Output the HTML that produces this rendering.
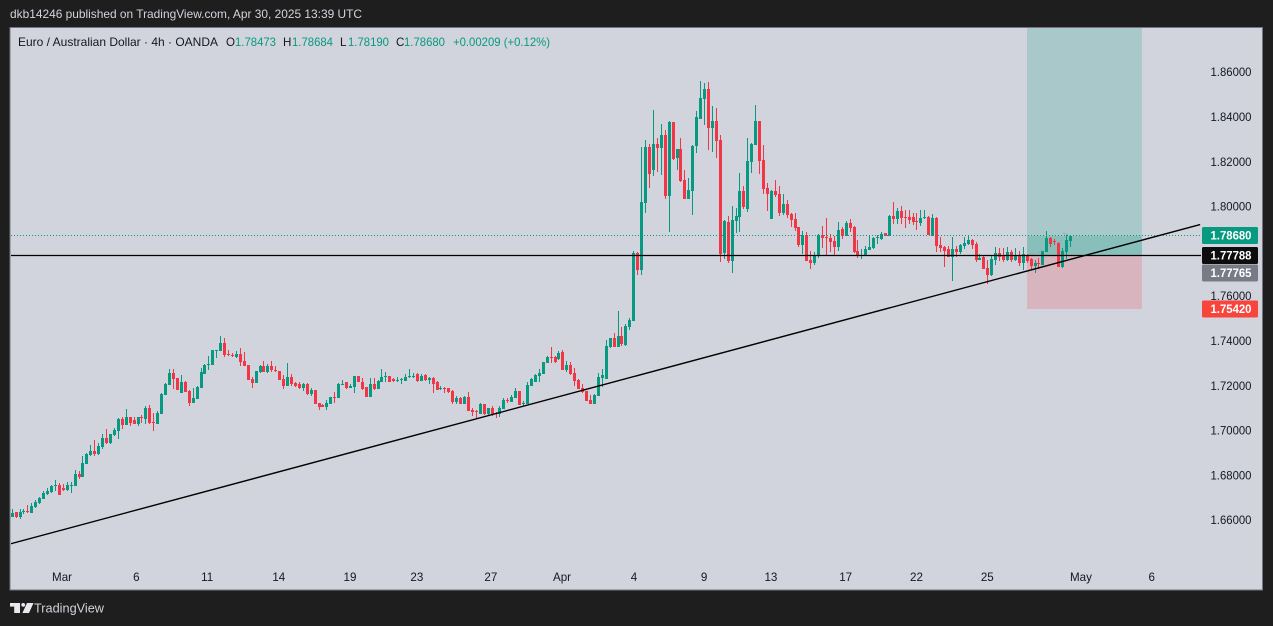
<!DOCTYPE html>
<html lang="en">
<head>
<meta charset="utf-8">
<title>EUR/AUD 4h chart</title>
<style>
html,body{margin:0;padding:0;background:#1e1e1e;width:1273px;height:626px;overflow:hidden}
svg{display:block;font-family:"Liberation Sans",Arial,sans-serif}
</style>
</head>
<body>
<svg id="chart" xmlns="http://www.w3.org/2000/svg" width="1273" height="626" viewBox="0 0 1273 626">
  <rect x="0" y="0" width="1273" height="626" fill="#1e1e1e"/>
  <text x="10" y="18" font-size="12" fill="#d1d4dc" textLength="352" lengthAdjust="spacingAndGlyphs">dkb14246 published on TradingView.com, Apr 30, 2025 13:39 UTC</text>
  <rect x="10" y="27.5" width="1252.5" height="562.5" fill="#d1d4dc" stroke="#73767f" stroke-width="1"/>
  <defs>
    <clipPath id="plot-clip"><rect x="11" y="28" width="1190" height="561"/></clipPath>
  </defs>
  <g id="position-layer" clip-path="url(#plot-clip)"></g>
  <g id="candle-layer" clip-path="url(#plot-clip)"></g>
  <g id="line-layer" clip-path="url(#plot-clip)"></g>
  <g id="y-axis"></g>
  <g id="x-axis"></g>
  <g id="badge-layer"></g>
  <g font-size="11.6">
    <text x="18" y="46" fill="#131722" textLength="200" lengthAdjust="spacingAndGlyphs">Euro / Australian Dollar · 4h · OANDA</text>
    <text x="226" y="46" fill="#131722">O</text>
    <text x="235" y="46" fill="#089981" textLength="41" lengthAdjust="spacingAndGlyphs">1.78473</text>
    <text x="283" y="46" fill="#131722">H</text>
    <text x="292" y="46" fill="#089981" textLength="41" lengthAdjust="spacingAndGlyphs">1.78684</text>
    <text x="340" y="46" fill="#131722">L</text>
    <text x="348" y="46" fill="#089981" textLength="41" lengthAdjust="spacingAndGlyphs">1.78190</text>
    <text x="396" y="46" fill="#131722">C</text>
    <text x="404" y="46" fill="#089981" textLength="41" lengthAdjust="spacingAndGlyphs">1.78680</text>
    <text x="453" y="46" fill="#089981" textLength="97" lengthAdjust="spacingAndGlyphs">+0.00209 (+0.12%)</text>
  </g>
  <g>
    <rect x="10" y="603" width="10" height="3.6" fill="#e8e9ec"/>
    <rect x="14.2" y="603" width="5.8" height="10" fill="#e8e9ec"/>
    <circle cx="23.2" cy="604.9" r="1.9" fill="#e8e9ec"/>
    <polygon points="27,603 33.5,603 29,613 22.4,613" fill="#e8e9ec"/>
    <text x="34" y="612.5" font-size="13" fill="#d1d4dc" textLength="70" lengthAdjust="spacingAndGlyphs">TradingView</text>
  </g>
</svg>
<script>
const opens = [
1.6613,1.6636,1.6613,1.6636,1.6639,1.6633,1.6658,1.6674,1.6695,1.6716,
1.6725,1.6752,1.6756,1.6741,1.6734,1.6753,1.6752,1.6805,1.6792,1.6850,
1.6890,1.6908,1.6894,1.6926,1.6966,1.6942,1.6978,1.6997,1.7051,1.7024,
1.7058,1.7046,1.7028,1.7058,1.7051,1.7100,1.7037,1.7028,1.7073,1.7158,
1.7202,1.7256,1.7234,1.7167,1.7216,1.7176,1.7122,1.7140,1.7189,1.7252,
1.7292,1.7292,1.7356,1.7354,1.7390,1.7341,1.7336,1.7327,1.7341,1.7310,
1.7292,1.7229,1.7211,1.7260,1.7287,1.7260,1.7287,1.7269,1.7265,1.7229,
1.7198,1.7238,1.7211,1.7207,1.7189,1.7207,1.7162,1.7180,1.7122,1.7113,
1.7104,1.7118,1.7151,1.7145,1.7203,1.7214,1.7190,1.7194,1.7243,1.7217,
1.7194,1.7150,1.7208,1.7185,1.7217,1.7239,1.7243,1.7230,1.7222,1.7225,
1.7222,1.7237,1.7239,1.7252,1.7221,1.7248,1.7225,1.7234,1.7217,1.7185,
1.7190,1.7190,1.7176,1.7127,1.7145,1.7118,1.7150,1.7091,1.7088,1.7074,
1.7118,1.7074,1.7100,1.7078,1.7074,1.7096,1.7136,1.7127,1.7145,1.7176,
1.7121,1.7118,1.7199,1.7217,1.7243,1.7252,1.7301,1.7328,1.7328,1.7319,
1.7350,1.7270,1.7292,1.7257,1.7225,1.7190,1.7176,1.7136,1.7118,1.7154,
1.7234,1.7230,1.7372,1.7413,1.7372,1.7421,1.7381,1.7462,1.7488,1.7792,
1.7716,1.8015,1.8265,1.8163,1.8279,1.8261,1.8319,1.8047,1.8377,1.8216,
1.8256,1.8118,1.8033,1.8069,1.8270,1.8390,1.8480,1.8524,1.8350,1.8381,
1.8297,1.7792,1.7930,1.7756,1.7935,1.7953,1.8069,1.7988,1.8198,1.8274,
1.8381,1.8207,1.8082,1.7944,1.8069,1.8055,1.7971,1.8011,1.7966,1.7944,
1.7908,1.7828,1.7872,1.7761,1.7747,1.7778,1.7872,1.7863,1.7859,1.7845,
1.7819,1.7899,1.7868,1.7926,1.7908,1.7801,1.7778,1.7778,1.7805,1.7814,
1.7859,1.7854,1.7881,1.7868,1.7957,1.7944,1.7979,1.7952,1.7952,1.7952,
1.7935,1.7926,1.7948,1.7952,1.7868,1.7948,1.7827,1.7819,1.7810,1.7774,
1.7810,1.7796,1.7823,1.7832,1.7850,1.7832,1.7761,1.7774,1.7725,1.7694,
1.7761,1.7792,1.7783,1.7761,1.7796,1.7761,1.7783,1.7747,1.7783,1.7765,
1.7734,1.7747,1.7738,1.7796,1.7859,1.7845,1.7836,1.7729,1.7796,1.78473];
const highs = [
1.6649,1.6636,1.6649,1.6649,1.6665,1.6676,1.6689,1.6703,1.6728,1.6743,
1.6758,1.6778,1.6763,1.6761,1.6768,1.6771,1.6823,1.6819,1.6886,1.6899,
1.6933,1.6957,1.6944,1.6984,1.7006,1.6984,1.7009,1.7055,1.7058,1.7095,
1.7058,1.7058,1.7058,1.7069,1.7109,1.7112,1.7076,1.7086,1.7167,1.7211,
1.7274,1.7274,1.7234,1.7247,1.7220,1.7180,1.7189,1.7198,1.7278,1.7296,
1.7332,1.7359,1.7359,1.7421,1.7412,1.7359,1.7345,1.7354,1.7368,1.7350,
1.7292,1.7238,1.7265,1.7292,1.7310,1.7296,1.7310,1.7287,1.7265,1.7247,
1.7301,1.7252,1.7216,1.7216,1.7211,1.7211,1.7189,1.7180,1.7122,1.7118,
1.7135,1.7149,1.7172,1.7211,1.7225,1.7217,1.7208,1.7243,1.7243,1.7234,
1.7194,1.7234,1.7234,1.7225,1.7275,1.7261,1.7243,1.7234,1.7240,1.7234,
1.7252,1.7275,1.7257,1.7257,1.7252,1.7252,1.7239,1.7239,1.7221,1.7199,
1.7194,1.7190,1.7181,1.7154,1.7150,1.7154,1.7172,1.7100,1.7091,1.7123,
1.7118,1.7100,1.7109,1.7083,1.7109,1.7145,1.7145,1.7158,1.7190,1.7176,
1.7132,1.7217,1.7234,1.7252,1.7275,1.7306,1.7333,1.7373,1.7333,1.7355,
1.7359,1.7310,1.7306,1.7279,1.7230,1.7208,1.7176,1.7158,1.7163,1.7257,
1.7275,1.7404,1.7413,1.7435,1.7533,1.7462,1.7475,1.7502,1.7801,1.7797,
1.8265,1.8297,1.8279,1.8430,1.8305,1.8368,1.8341,1.8381,1.8377,1.8256,
1.8305,1.8163,1.8127,1.8274,1.8426,1.8560,1.8551,1.8555,1.8448,1.8439,
1.8319,1.7939,1.7957,1.8002,1.7993,1.8149,1.8091,1.8305,1.8283,1.8453,
1.8381,1.8274,1.8105,1.8073,1.8118,1.8091,1.8055,1.8029,1.7971,1.7971,
1.7908,1.7890,1.7886,1.7801,1.7796,1.7877,1.7912,1.7948,1.7877,1.7868,
1.7930,1.7908,1.7935,1.7944,1.7912,1.7850,1.7810,1.7823,1.7868,1.7863,
1.7872,1.7885,1.7881,1.7961,1.8019,1.7993,1.8002,1.7984,1.7984,1.7970,
1.7970,1.7984,1.7984,1.7957,1.7966,1.7952,1.7863,1.7823,1.7823,1.7863,
1.7823,1.7832,1.7863,1.7872,1.7854,1.7841,1.7787,1.7778,1.7761,1.7778,
1.7819,1.7814,1.7814,1.7819,1.7805,1.7814,1.7801,1.7819,1.7787,1.7769,
1.7761,1.7769,1.7801,1.7890,1.7863,1.7854,1.7841,1.7814,1.7872,1.78684];
const lows = [
1.6613,1.6609,1.6606,1.6625,1.6630,1.6631,1.6655,1.6671,1.6694,1.6711,
1.6722,1.6728,1.6711,1.6728,1.6729,1.6722,1.6752,1.6783,1.6792,1.6850,
1.6886,1.6886,1.6890,1.6917,1.6938,1.6938,1.6973,1.6961,1.7006,1.7024,
1.7019,1.7028,1.7019,1.7033,1.7028,1.7028,1.6997,1.7028,1.7073,1.7158,
1.7202,1.7185,1.7180,1.7167,1.7171,1.7109,1.7122,1.7140,1.7189,1.7252,
1.7269,1.7292,1.7323,1.7354,1.7327,1.7332,1.7327,1.7323,1.7287,1.7287,
1.7225,1.7189,1.7211,1.7256,1.7260,1.7256,1.7260,1.7260,1.7225,1.7185,
1.7198,1.7198,1.7194,1.7185,1.7176,1.7158,1.7153,1.7118,1.7091,1.7104,
1.7091,1.7118,1.7121,1.7145,1.7202,1.7184,1.7190,1.7169,1.7214,1.7181,
1.7150,1.7150,1.7181,1.7185,1.7217,1.7217,1.7214,1.7217,1.7217,1.7205,
1.7222,1.7234,1.7234,1.7217,1.7221,1.7221,1.7208,1.7167,1.7181,1.7181,
1.7167,1.7167,1.7118,1.7118,1.7118,1.7118,1.7087,1.7065,1.7056,1.7074,
1.7069,1.7065,1.7065,1.7056,1.7060,1.7096,1.7123,1.7127,1.7145,1.7114,
1.7109,1.7118,1.7199,1.7217,1.7217,1.7252,1.7301,1.7301,1.7301,1.7315,
1.7270,1.7261,1.7248,1.7199,1.7185,1.7167,1.7132,1.7118,1.7118,1.7154,
1.7194,1.7230,1.7368,1.7372,1.7372,1.7377,1.7377,1.7448,1.7488,1.7694,
1.7694,1.7971,1.8082,1.8136,1.8154,1.8140,1.8033,1.7886,1.8207,1.8163,
1.8109,1.8033,1.8033,1.7962,1.8238,1.8390,1.8363,1.8252,1.8243,1.8216,
1.7752,1.7765,1.7747,1.7703,1.7881,1.7886,1.7988,1.7975,1.8149,1.8274,
1.8145,1.8055,1.7980,1.7944,1.8042,1.7957,1.7962,1.7948,1.7908,1.7890,
1.7819,1.7788,1.7756,1.7720,1.7738,1.7769,1.7814,1.7778,1.7796,1.7783,
1.7801,1.7854,1.7868,1.7885,1.7792,1.7769,1.7765,1.7778,1.7805,1.7810,
1.7832,1.7850,1.7868,1.7868,1.7921,1.7921,1.7921,1.7903,1.7921,1.7917,
1.7894,1.7912,1.7944,1.7872,1.7868,1.7796,1.7796,1.7729,1.7774,1.7667,
1.7774,1.7787,1.7810,1.7827,1.7810,1.7752,1.7761,1.7720,1.7653,1.7689,
1.7738,1.7756,1.7752,1.7756,1.7752,1.7756,1.7734,1.7716,1.7747,1.7720,
1.7702,1.7720,1.7738,1.7796,1.7819,1.7827,1.7729,1.7725,1.7765,1.78190];
const closes = [
1.6633,1.6613,1.6637,1.6640,1.6636,1.6662,1.6680,1.6698,1.6719,1.6728,
1.6752,1.6756,1.6711,1.6734,1.6756,1.6756,1.6805,1.6790,1.6854,1.6894,
1.6906,1.6894,1.6930,1.6966,1.6942,1.6984,1.7002,1.7051,1.7024,1.7060,
1.7033,1.7028,1.7058,1.7055,1.7100,1.7033,1.7034,1.7077,1.7162,1.7207,
1.7256,1.7229,1.7180,1.7216,1.7171,1.7122,1.7144,1.7194,1.7260,1.7292,
1.7296,1.7359,1.7359,1.7390,1.7336,1.7336,1.7332,1.7341,1.7305,1.7287,
1.7225,1.7211,1.7265,1.7287,1.7260,1.7287,1.7269,1.7266,1.7225,1.7198,
1.7238,1.7207,1.7198,1.7189,1.7207,1.7162,1.7180,1.7118,1.7104,1.7104,
1.7122,1.7149,1.7148,1.7208,1.7208,1.7190,1.7199,1.7243,1.7214,1.7187,
1.7150,1.7208,1.7185,1.7221,1.7239,1.7243,1.7217,1.7222,1.7225,1.7228,
1.7239,1.7243,1.7245,1.7221,1.7243,1.7225,1.7234,1.7208,1.7181,1.7190,
1.7187,1.7172,1.7127,1.7145,1.7118,1.7150,1.7087,1.7083,1.7083,1.7118,
1.7074,1.7100,1.7074,1.7074,1.7100,1.7136,1.7133,1.7150,1.7176,1.7114,
1.7123,1.7203,1.7230,1.7248,1.7257,1.7306,1.7328,1.7325,1.7306,1.7346,
1.7270,1.7292,1.7252,1.7221,1.7185,1.7172,1.7132,1.7118,1.7158,1.7239,
1.7248,1.7377,1.7413,1.7372,1.7421,1.7386,1.7466,1.7493,1.7792,1.7716,
1.8020,1.8265,1.8145,1.8279,1.8261,1.8319,1.8047,1.8377,1.8212,1.8256,
1.8113,1.8033,1.8073,1.8270,1.8399,1.8484,1.8524,1.8350,1.8381,1.8292,
1.7788,1.7935,1.7756,1.7939,1.7957,1.8069,1.7997,1.8203,1.8279,1.8381,
1.8203,1.8078,1.8055,1.8069,1.8051,1.7971,1.8011,1.7962,1.7939,1.7904,
1.7828,1.7872,1.7756,1.7747,1.7783,1.7872,1.7859,1.7859,1.7841,1.7819,
1.7894,1.7868,1.7926,1.7903,1.7796,1.7778,1.7783,1.7810,1.7819,1.7859,
1.7863,1.7877,1.7868,1.7957,1.7944,1.7979,1.7948,1.7948,1.7939,1.7930,
1.7930,1.7948,1.7952,1.7872,1.7948,1.7823,1.7814,1.7801,1.7774,1.7810,
1.7796,1.7827,1.7836,1.7850,1.7827,1.7761,1.7769,1.7720,1.7694,1.7765,
1.7792,1.7774,1.7761,1.7796,1.7761,1.7783,1.7747,1.7787,1.7756,1.7734,
1.7747,1.7743,1.7801,1.7859,1.7832,1.7841,1.7729,1.7801,1.7850,1.78680];

const priceTicks = [1.86,1.84,1.82,1.80,1.78,1.76,1.74,1.72,1.70,1.68,1.66];
const timeTickLabels = ["Mar","6","11","14","19","23","27","Apr","4","9","13","17","22","25","May","6"];
const timeTickBars = [12.8,31.7,49.7,67.9,86,103,121.8,139.9,158.2,176,193,212,230,248,271.8,289.8];

const lastPrice = 1.78680;
const entryPrice = 1.77788;
const stopPrice = 1.75420;
const crossPrice = 1.77765;
const targetPrice = 1.8801;
const positionStartBar = 258.1;
const positionEndBar = 287.3;
const trendBars = [-0.42, 302.1];
const trendPrices = [1.6493, 1.7919];
const markerBars = [[258.5,259.6],[260.8,262],[265.9,267],[267.3,268.6]];
const markerPrices = [[1.7785,1.7790],[1.7794,1.7803],[1.7839,1.7847],[1.7881,1.7873]];

const SVG_NS = "http://www.w3.org/2000/svg";
const GREEN = "#089981";
const RED = "#f23645";

function xOf(bar){ return 11.67 + bar * 3.934; }
function yOf(price){ return 72 + (1.86 - price) * 2240; }
function make(tag, attrs, parent){
  const el = document.createElementNS(SVG_NS, tag);
  Object.keys(attrs).forEach(function(k){ el.setAttribute(k, attrs[k]); });
  parent.appendChild(el);
  return el;
}

/* position box */
const posLayer = document.getElementById("position-layer");
const boxLeft = xOf(positionStartBar);
const boxWidth = xOf(positionEndBar) - boxLeft;
const targetZone = make("rect", {x:boxLeft, y:yOf(targetPrice), width:boxWidth, height:yOf(entryPrice)-yOf(targetPrice), fill:"#089981", "fill-opacity":"0.2"}, posLayer);


const activeZone = make("rect", {x:boxLeft, y:yOf(lastPrice), width:boxWidth, height:yOf(entryPrice)-yOf(lastPrice), fill:"#089981", "fill-opacity":"0.2"}, posLayer);


const stopZone = make("rect", {x:boxLeft, y:yOf(entryPrice), width:boxWidth, height:yOf(stopPrice)-yOf(entryPrice), fill:"#f23645", "fill-opacity":"0.2"}, posLayer);



/* candles */
const candleLayer = document.getElementById("candle-layer");
closes.forEach(function(close, i){
  const open = opens[i];
  const up = close >= open;
  const color = up ? GREEN : RED;
  const cx = Math.round(xOf(i));
  const g = make("g", {fill:color}, candleLayer);
  
  
  const yHigh = Math.round(yOf(highs[i]));
  const yLow = Math.round(yOf(lows[i]));
  const wick = make("rect", {x:cx, y:yHigh, width:1, height:Math.max(1, yLow - yHigh)}, g);
  
  
  const bTop = Math.round(yOf(Math.max(open, close)));
  const bBot = Math.round(yOf(Math.min(open, close)));
  const body = make("rect", {x:cx - 1, y:bTop, width:3, height:Math.max(1, bBot - bTop)}, g);
  
  
});

/* drawings */
const lineLayer = document.getElementById("line-layer");
markerBars.forEach(function(bars, i){
  const m = make("line", {x1:xOf(bars[0]), x2:xOf(bars[1]), y1:yOf(markerPrices[i][0]), y2:yOf(markerPrices[i][1]), stroke:"#9a9ca6", "stroke-width":1, "stroke-dasharray":"2 1"}, lineLayer);
  
  
});
const dotted = make("line", {x1:11, x2:1201, y1:Math.round(yOf(lastPrice)) - 0.5, y2:Math.round(yOf(lastPrice)) - 0.5, stroke:GREEN, "stroke-width":1, "stroke-dasharray":"1 2"}, lineLayer);


const hLine = make("line", {x1:11, x2:1201, y1:Math.round(yOf(entryPrice)) - 0.5, y2:Math.round(yOf(entryPrice)) - 0.5, stroke:"#000000", "stroke-width":1.2}, lineLayer);


const trend = make("line", {x1:xOf(trendBars[0]), x2:xOf(trendBars[1]), y1:yOf(trendPrices[0]), y2:yOf(trendPrices[1]), stroke:"#000000", "stroke-width":1.4}, lineLayer);



/* price axis */
const yAxis = document.getElementById("y-axis");
priceTicks.forEach(function(p){
  const t = make("text", {x:1210.5, y:yOf(p) + 4.2, "font-size":"11.6", fill:"#131722", textLength:"41", lengthAdjust:"spacingAndGlyphs"}, yAxis);
  
  
  t.textContent = p.toFixed(5);
});

/* time axis */
const xAxis = document.getElementById("x-axis");
timeTickLabels.forEach(function(label, i){
  const t = make("text", {x:xOf(timeTickBars[i]), y:581, "font-size":"11.6", fill:"#131722", "text-anchor":"middle"}, xAxis);
  
  
  t.textContent = label;
});

/* price badges */
const badgePrices = [lastPrice, entryPrice, crossPrice, stopPrice];
const badgeColors = ["#089981", "#0d0d0d", "#787b86", "#f7453c"];
const badgeOffsets = [-0.5, -0.5, 16.5, 0];
const badgeLayer = document.getElementById("badge-layer");
badgePrices.forEach(function(p, i){
  const yc = yOf(p) + badgeOffsets[i];
  const g = make("g", {}, badgeLayer);
  
  
  const r = make("rect", {x:1202, y:yc - 8.5, width:56, height:17, rx:1.5, fill:badgeColors[i]}, g);
  
  
  const t = make("text", {x:1210.5, y:yc + 4.2, "font-size":"11.6", "font-weight":"700", fill:"#ffffff", textLength:"41", lengthAdjust:"spacingAndGlyphs"}, g);
  
  
  t.textContent = p.toFixed(5);
});
</script>
</body>
</html>
